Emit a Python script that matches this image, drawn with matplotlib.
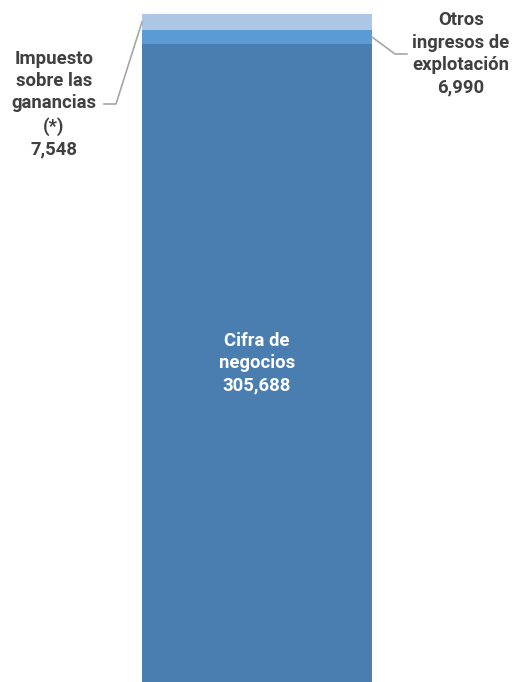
import matplotlib
matplotlib.use('Agg')
import matplotlib.pyplot as plt

plt.rcParams['font.family'] = ['Roboto', 'DejaVu Sans']

# data (bottom to top)
labels = ['Cifra de\nnegocios', 'Otros\ningresos de\nexplotación', 'Impuesto\nsobre las\nganancias\n(*)']
values = [305688, 6990, 7548]
colors = ['#4a7eb0', '#5b9bd5', '#adc6e5']

W, H = 515, 682
fig = plt.figure(figsize=(W / 100, H / 100), dpi=100)
ax = fig.add_axes([0, 0, 1, 1])
ax.axis('off')

total = sum(values)
bar_w = 1.0
# bar spans pixels 142..372 horizontally, top at pixel 14
ax.set_xlim(-0.5 - 142 / 230, 0.5 + (W - 372) / 230)
ax.set_ylim(0, total * H / (H - 14))

bottom = 0
for v, c in zip(values, colors):
    ax.bar(0, v, bar_w, bottom=bottom, color=c, linewidth=0)
    bottom += v


def px(x, y):
    # pixel (from top-left) -> data coords
    return ax.transData.inverted().transform((x, H - y))


txt_col = '#404040'
fs = 13.3

# center label
ax.text(0, values[0] / 2, f"{labels[0]}\n{values[0]:,}", ha='center', va='center',
        color='white', fontsize=fs, fontweight='bold', linespacing=1.32)

# right label: Otros ingresos
y_mid = values[0] + values[1] / 2
p1 = px(395, 54)
p2 = px(407, 54)
ax.plot([0.5, p1[0], p2[0]], [y_mid, p1[1], p2[1]], color='#a6a6a6', lw=1.2)
t = px(461, 54)
ax.text(t[0], t[1], f"{labels[1]}\n{values[1]:,}", ha='center', va='center',
        color=txt_col, fontsize=fs, fontweight='bold', linespacing=1.32)

# left label: Impuesto
y_top = values[0] + values[1] + values[2] / 2
p1 = px(116, 104)
p2 = px(104, 104)
ax.plot([-0.5, p1[0], p2[0]], [y_top, p1[1], p2[1]], color='#a6a6a6', lw=1.2)
t = px(54, 104)
ax.text(t[0], t[1], f"{labels[2]}\n{values[2]:,}", ha='center', va='center',
        color=txt_col, fontsize=fs, fontweight='bold', linespacing=1.32)

fig.savefig('out.png', dpi=100)
